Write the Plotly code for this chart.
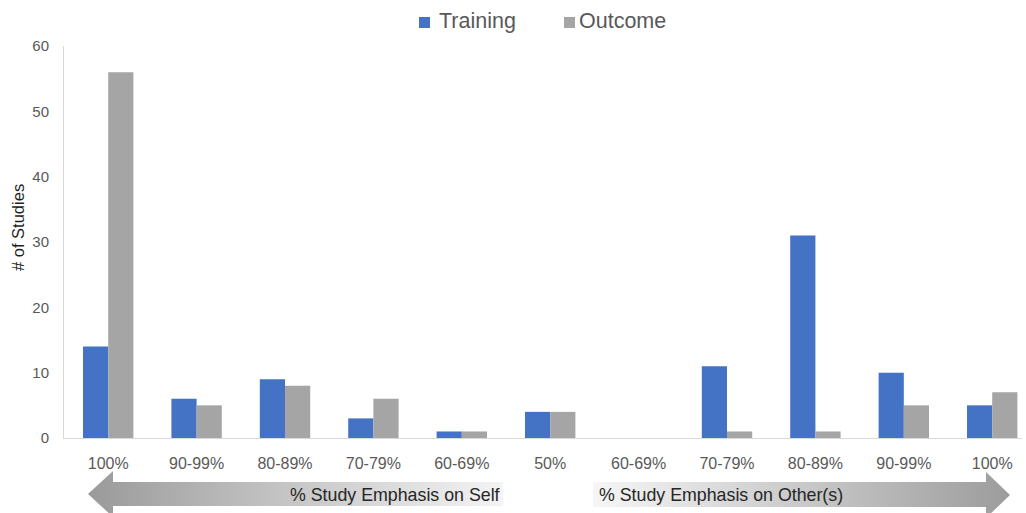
import plotly.graph_objects as go

categories = ["100%", "90-99%", "80-89%", "70-79%", "60-69%", "50%",
              "60-69%", "70-79%", "80-89%", "90-99%", "100%"]
training = [14, 6, 9, 3, 1, 4, 0, 11, 31, 10, 5]
outcome = [56, 5, 8, 6, 1, 4, 0, 1, 1, 5, 7]
y_ticks = [0, 10, 20, 30, 40, 50, 60]
series_names = ["Training", "Outcome"]
series_colors = ["#4472C4", "#A5A5A5"]

W, H = 1026, 513
pos = list(range(len(categories)))
FONT = "Liberation Sans, Arial, sans-serif"

fig = go.Figure()
for name, vals, col in zip(series_names, [training, outcome], series_colors):
    fig.add_trace(go.Bar(x=pos, y=vals, name=name, marker_color=col,
                         marker_line_width=0, showlegend=False))

# decorative gradient arrows on a pixel-space overlay axis
left_arrow_x = [88, 113, 113, 503, 503, 113, 113, 88]
left_arrow_y = [494, 471, 482, 482, 506, 506, 517, 494]
right_arrow_x = [1010, 986, 986, 593, 593, 986, 986, 1010]
right_arrow_y = [495, 472, 482, 482, 507, 507, 518, 495]
fig.add_trace(go.Scatter(x=left_arrow_x, y=left_arrow_y, xaxis="x2", yaxis="y2",
                         mode="lines", line=dict(width=0), fill="toself",
                         fillgradient=dict(type="horizontal",
                                           colorscale=[[0, "#9a9a9a"], [1, "#f4f4f4"]]),
                         showlegend=False, hoverinfo="skip"))
fig.add_trace(go.Scatter(x=right_arrow_x, y=right_arrow_y, xaxis="x2", yaxis="y2",
                         mode="lines", line=dict(width=0), fill="toself",
                         fillgradient=dict(type="horizontal",
                                           colorscale=[[0, "#f6f6f6"], [1, "#9c9c9c"]]),
                         showlegend=False, hoverinfo="skip"))

# manual legend (square swatches + labels)
legend_sq_x = [419, 564]
legend_txt_x = [437, 577]
shapes = []
annotations = []
for name, col, sx, tx in zip(series_names, series_colors, legend_sq_x, legend_txt_x):
    shapes.append(dict(type="rect", xref="paper", yref="paper",
                       x0=sx / W, x1=(sx + 11) / W, y0=(H - 28) / H, y1=(H - 17) / H,
                       fillcolor=col, line=dict(width=0)))
    annotations.append(dict(text=name, x=tx / W, y=(H - 21) / H, xref="paper", yref="paper",
                            xanchor="left", yanchor="middle", showarrow=False,
                            font=dict(size=21.5, color="#595959", family=FONT)))

annotations += [
    dict(text="# of Studies", x=18 / W, y=(H - 228) / H, xref="paper", yref="paper",
         xanchor="center", yanchor="middle",
         textangle=-90, showarrow=False, font=dict(size=16.5, color="#1f1f1f", family=FONT)),
    dict(text="% Study Emphasis on Self", x=395 / W, y=(H - 495) / H,
         xref="paper", yref="paper", xanchor="center", yanchor="middle", showarrow=False,
         font=dict(size=17.8, color="#262626", family=FONT)),
    dict(text="% Study Emphasis on Other(s)", x=721 / W, y=(H - 495) / H,
         xref="paper", yref="paper", xanchor="center", yanchor="middle", showarrow=False,
         font=dict(size=17.8, color="#262626", family=FONT)),
]

fig.update_layout(
    width=W, height=H,
    template="none",
    paper_bgcolor="white", plot_bgcolor="rgba(0,0,0,0)",
    margin=dict(l=0, r=0, t=0, b=0),
    barmode="group", bargap=0.43, bargroupgap=0,
    font=dict(family=FONT, color="#595959"),
    showlegend=False,
    xaxis=dict(domain=[64 / W, 1022 / W], range=[-0.5, 10.337],
               tickmode="array", tickvals=pos, ticktext=categories,
               showgrid=False, zeroline=False, showline=True, linecolor="#d9d9d9",
               linewidth=1, ticks="", ticklabelstandoff=11,
               tickfont=dict(size=16, color="#595959", family=FONT), automargin=False),
    yaxis=dict(domain=[(H - 438) / H, (H - 46) / H], range=[0, 60],
               tickmode="array", tickvals=y_ticks,
               showgrid=False, zeroline=False, showline=True, linecolor="#d9d9d9",
               linewidth=1, ticks="", ticklabelstandoff=11,
               tickfont=dict(size=15, color="#595959", family=FONT), automargin=False),
    xaxis2=dict(domain=[0, 1], range=[0, W], visible=False, anchor="y2",
                fixedrange=True),
    yaxis2=dict(domain=[0, 1], range=[H, 0], visible=False, anchor="x2",
                fixedrange=True),
    shapes=shapes,
    annotations=annotations,
)

fig.write_html("out.html", config={"displayModeBar": False},
               post_script="document.body.style.margin='0';")
